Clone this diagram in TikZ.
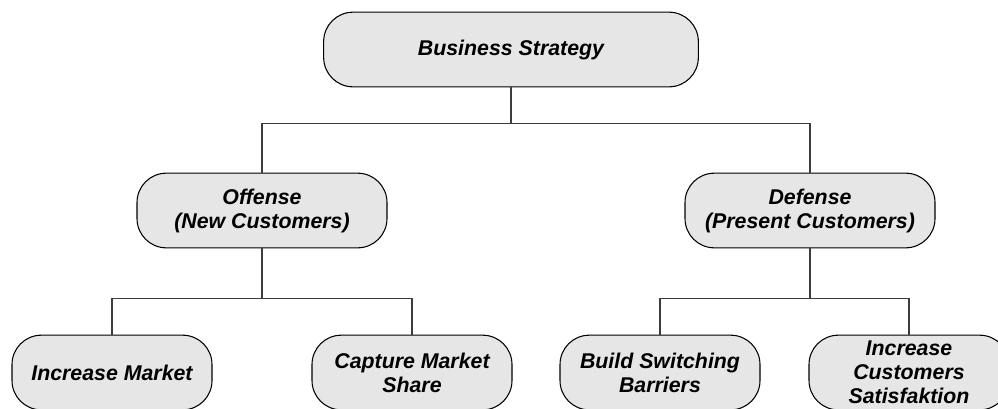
\documentclass[tikz,border=0pt]{standalone}
\usepackage{fontspec}
\setmainfont{Liberation Sans}
\usepackage{tikz}
\usepackage{xcolor}
\definecolor{boxgray}{HTML}{E6E6E6}
\definecolor{edgegray}{HTML}{3C3C3C}
\tikzset{
  treebox/.style={
    rounded corners=22pt,
    draw=black,
    fill=boxgray,
    line width=0.8pt,
    inner sep=0pt,
    align=center,
    font=\fontsize{16}{18}\selectfont\bfseries\itshape
  },
  topbox/.style={treebox, minimum width=281pt, minimum height=56pt},
  midbox/.style={treebox, minimum width=187.5pt, minimum height=56pt},
  leafbox/.style={treebox, minimum width=150pt, minimum height=56pt},
  branch/.style={
    line width=0.8pt,
    draw=edgegray
  }
}

\begin{document}
\begin{tikzpicture}[x=0.75pt,y=-0.75pt]
\useasboundingbox (0,0) rectangle (998,408);
\clip (0,0) rectangle (998,408);
% levels of the tree
\node[topbox] (strategy) at (511,49.5) {Business Strategy};
\node[midbox] (offense) at (262,210.5) {Offense\\(New Customers)};
\node[midbox] (defense) at (810,210.5) {Defense\\(Present Customers)};
\node[leafbox] (market) at (112,372.5) {Increase Market};
\node[leafbox] (share) at (412,372.5) {Capture Market\\Share};
\node[leafbox] (barriers) at (660,372.5) {Build Switching\\Barriers};
\node[leafbox] (satisfaction) at (909,372.5) {Increase\\Customers\\Satisfaktion};
% branches
\draw[branch] (strategy.south) -- ++(0,36) -| (offense.north);
\draw[branch] (strategy.south) -- ++(0,36) -| (defense.north);
\draw[branch] (offense.south) -- ++(0,50) -| (market.north);
\draw[branch] (offense.south) -- ++(0,50) -| (share.north);
\draw[branch] (defense.south) -- ++(0,50) -| (barriers.north);
\draw[branch] (defense.south) -- ++(0,50) -| (satisfaction.north);
\end{tikzpicture}
\end{document}
